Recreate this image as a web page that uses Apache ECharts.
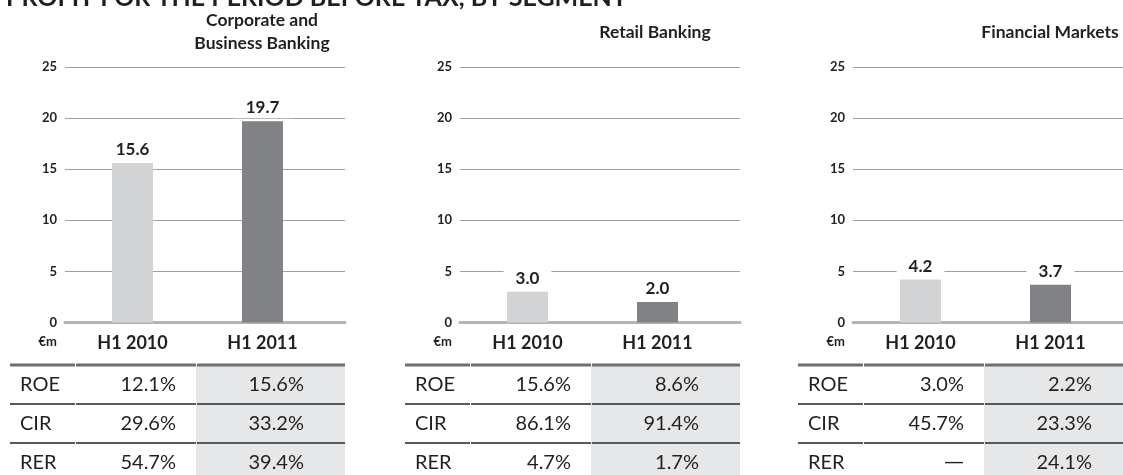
<!DOCTYPE html>
<html>
<head>
<meta charset="utf-8">
<script src="https://cdn.jsdelivr.net/npm/echarts@6/dist/echarts.min.js"></script>
<style>
  html, body { margin: 0; padding: 0; background: #fff; }
  #chart { width: 1123px; height: 475px; }
</style>
</head>
<body>
<div id="chart"></div>
<script>
const segments = ['Corporate and\nBusiness Banking', 'Retail Banking', 'Financial Markets']
const periods = ['H1 2010', 'H1 2011']
const profit2010 = [15.6, 3.0, 4.2]
const profit2011 = [19.7, 2.0, 3.7]
const yTicks = [0, 5, 10, 15, 20, 25]

const metrics = ['ROE', 'CIR', 'RER']
const roe2010 = [12.1, 15.6, 3.0]
const roe2011 = [15.6, 8.6, 2.2]
const cir2010 = [29.6, 86.1, 45.7]
const cir2011 = [33.2, 91.4, 23.3]
const rer2010 = [54.7, 4.7, null]
const rer2011 = [39.4, 1.7, 24.1]

const FONT = 'Lato, "Open Sans", sans-serif'
const INK = '#231f20'
const LIGHT = '#d1d3d4'
const DARK = '#808285'

// layout
const panelLeft = [65, 460, 853]
const axisWidth = 280
const gridTop = 67
const gridHeight = 255.5
const titleX = [262, 655, 1050]
const tableTop = 365
const rowH = 39

const grids = []
const xAxes = []
const yAxes = []
const series = []
const graphics = []

function pct(v) {
  return v == null ? '—' : v.toFixed(1) + '%'
}

segments.forEach((seg, i) => {
  const L = panelLeft[i]
  // background grid: gridlines, y labels, base line
  grids.push({ left: L, top: gridTop, width: axisWidth, height: gridHeight })
  // bar grid: slightly narrower so the bars sit left of centre
  grids.push({ left: L + 2.5, top: gridTop, width: 260, height: gridHeight })

  xAxes.push({
    gridIndex: 2 * i,
    type: 'value',
    min: 0,
    max: 1,
    axisLine: { show: true, onZero: false, lineStyle: { color: '#b1b3b6', width: 3 } },
    axisTick: { show: false },
    axisLabel: { show: false },
    splitLine: { show: false },
  })
  xAxes.push({
    gridIndex: 2 * i + 1,
    type: 'category',
    data: periods,
    axisLine: { show: false },
    axisTick: { show: false },
    axisLabel: { color: INK, fontFamily: FONT, fontWeight: 'bold', fontSize: 18, margin: 12 },
  })

  yAxes.push({
    gridIndex: 2 * i,
    type: 'value',
    min: yTicks[0],
    max: yTicks[yTicks.length - 1],
    interval: yTicks[1] - yTicks[0],
    name: '€m',
    nameLocation: 'start',
    nameGap: 13,
    nameTextStyle: { color: INK, fontFamily: FONT, fontWeight: 'bold', fontSize: 13, align: 'right', padding: [0, 8, 0, 0] },
    axisLine: { show: false },
    axisTick: { show: false },
    axisLabel: { color: INK, fontFamily: FONT, fontWeight: 'bold', fontSize: 13, margin: 8 },
    splitLine: { lineStyle: { color: '#9d9fa2', width: 1 } },
  })
  yAxes.push({
    gridIndex: 2 * i + 1,
    type: 'value',
    min: yTicks[0],
    max: yTicks[yTicks.length - 1],
    show: false,
    splitLine: { show: false },
  })

  series.push({
    type: 'bar',
    xAxisIndex: 2 * i + 1,
    yAxisIndex: 2 * i + 1,
    barWidth: 41,
    data: [
      { value: profit2010[i], itemStyle: { color: LIGHT } },
      { value: profit2011[i], itemStyle: { color: DARK } },
    ],
    label: {
      show: true,
      position: 'top',
      distance: 3,
      formatter: (p) => p.value.toFixed(1),
      color: INK,
      fontFamily: FONT,
      fontWeight: 'bold',
      fontSize: 17,
      backgroundColor: '#fff',
      padding: [2, 12],
    },
  })

  graphics.push({
    type: 'text',
    style: {
      x: titleX[i],
      y: 32,
      text: seg,
      fill: INK,
      font: 'bold 17.5px ' + FONT,
      align: 'center',
      verticalAlign: 'middle',
      lineHeight: 23,
    },
  })

  // ratio table under each panel
  const tl = L - 55
  const tr = Math.min(L + axisWidth, 1123)
  graphics.push({
    type: 'rect',
    shape: { x: tl + 186, y: tableTop, width: tr - tl - 186, height: 120 },
    style: { fill: '#e6e7e8' },
    z: 0,
  })
  const cols = [[tl, tl + 65], [tl + 66, tl + 186], [tl + 187, tr]]
  for (let r = 0; r < metrics.length; r++) {
    const y = tableTop + r * rowH
    cols.forEach(([a, b]) => {
      graphics.push({
        type: 'line',
        shape: { x1: a, y1: y, x2: b, y2: y },
        style: { stroke: r === 0 ? '#6d6e71' : '#58595b', lineWidth: r === 0 ? 3 : 2 },
        z: 2,
      })
    })
  }
  const rows = [
    [roe2010[i], roe2011[i]],
    [cir2010[i], cir2011[i]],
    [rer2010[i], rer2011[i]],
  ]
  rows.forEach((vals, r) => {
    const cy = tableTop + 19.5 + r * rowH
    const txt = { fill: INK, verticalAlign: 'middle' }
    const valFont = (v) => (v == null ? '20px "DejaVu Sans", sans-serif' : '20px ' + FONT)
    graphics.push({ type: 'text', z: 3, style: { ...txt, font: '20px ' + FONT, x: tl + 10, y: cy, text: metrics[r], align: 'left' } })
    graphics.push({ type: 'text', z: 3, style: { ...txt, font: valFont(vals[0]), x: tl + 166, y: cy, text: pct(vals[0]), align: 'right' } })
    graphics.push({ type: 'text', z: 3, style: { ...txt, font: valFont(vals[1]), x: tl + 294, y: cy, text: pct(vals[1]), align: 'right' } })
  })
})

graphics.push({
  type: 'text',
  style: {
    x: 6,
    y: -2,
    text: 'PROFIT FOR THE PERIOD BEFORE TAX, BY SEGMENT',
    fill: INK,
    font: 'bold 25px ' + FONT,
    align: 'left',
    verticalAlign: 'middle',
  },
})

const chart = echarts.init(document.getElementById('chart'))
chart.setOption({
  animation: false,
  grid: grids,
  xAxis: xAxes,
  yAxis: yAxes,
  series: series,
  graphic: graphics,
})
</script>
</body>
</html>
